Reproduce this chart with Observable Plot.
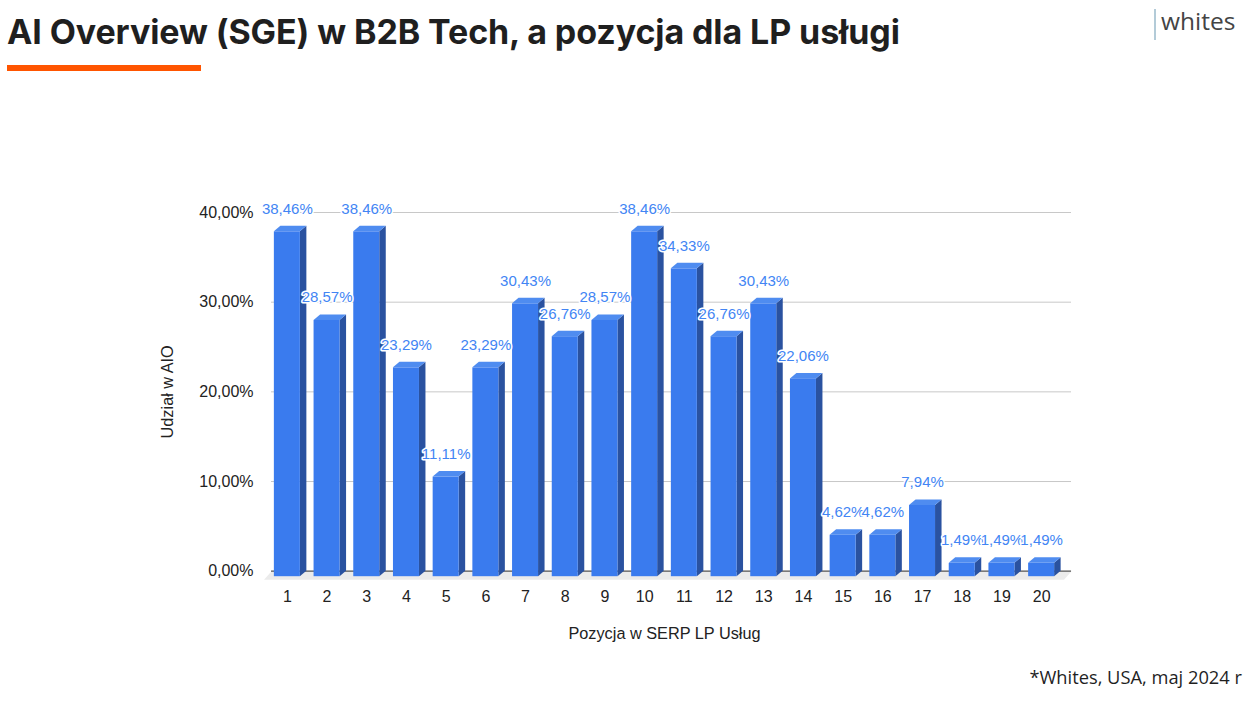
<!DOCTYPE html>
<html>
<head>
<meta charset="utf-8">
<script src="https://cdn.jsdelivr.net/npm/d3@7"></script>
<script src="https://cdn.jsdelivr.net/npm/@observablehq/plot@0.6"></script>
<style>
  html, body { margin: 0; padding: 0; background: #fff; width: 1258px; height: 705px; overflow: hidden; position: relative; }
  #title { position: absolute; left: 7px; top: 11px; font-family: Inter, "Open Sans", sans-serif; font-weight: 700; font-size: 34px; color: #1f1f1f; letter-spacing: -0.1px; white-space: nowrap; }
  #underline { position: absolute; left: 7px; top: 65px; width: 194px; height: 6px; background: #ff5500; }
  #logoBar { position: absolute; left: 1154px; top: 9px; width: 2px; height: 31px; background: #b3cbd8; }
  #logo { position: absolute; left: 1161px; top: 4px; font-family: "Open Sans", sans-serif; font-size: 24.5px; color: #444; }
  #chart { position: absolute; left: 0; top: 100px; }
  #footer { position: absolute; right: 16px; top: 664px; font-family: "Open Sans", sans-serif; font-size: 18.3px; color: #1f1f1f; }
</style>
</head>
<body>
<div id="title">AI Overview (SGE) w B2B Tech, a pozycja dla LP usługi</div>
<div id="underline"></div>
<div id="logoBar"></div>
<div id="logo">whites</div>
<div id="chart"></div>
<div id="footer">*Whites, USA, maj 2024 r</div>
<script>
const positions = [1,2,3,4,5,6,7,8,9,10,11,12,13,14,15,16,17,18,19,20];
const shares = [38.46,28.57,38.46,23.29,11.11,23.29,30.43,26.76,28.57,38.46,34.33,26.76,30.43,22.06,4.62,4.62,7.94,1.49,1.49,1.49];
const yTicks = [0,10,20,30,40];
const xTitle = "Pozycja w SERP LP Usług";
const yTitle = "Udział w AIO";

const data = positions.map((p, i) => ({pos: p, value: shares[i]}));
const fmt = v => v.toFixed(2).replace(".", ",") + "%";

const DX = 6.5, DY = 5.5, HALF = 13;
const FRONT = "#3a7bee", TOP = "#4f8cf0", SIDE = "#2a52a0";

function floorRender(index, scales, values, dimensions) {
  const {width, marginLeft, marginRight} = dimensions;
  const y0 = scales.y(0);
  const x0 = marginLeft, x1 = width - marginRight;
  const g = d3.create("svg:g");
  g.append("polygon")
    .attr("points", [[x0 + 8, y0], [x1 + 8, y0], [x1, y0 + 9], [x0, y0 + 9]].map(p => p.join(",")).join(" "))
    .attr("fill", "#ebebeb");
  return g.node();
}

function barsRender(index, scales) {
  const g = d3.create("svg:g");
  const bw = scales.x.bandwidth();
  const y0 = scales.y(0);
  const pts = a => a.map(p => p.join(",")).join(" ");
  for (const i of index) {
    const xc = scales.x(data[i].pos) + bw / 2;
    const yv = scales.y(data[i].value);
    const L = xc - HALF, R = xc + HALF;
    g.append("polygon").attr("fill", SIDE)
      .attr("points", pts([[R, yv + DY], [R + DX, yv], [R + DX, y0], [R, y0 + DY]]));
    g.append("polygon").attr("fill", TOP)
      .attr("points", pts([[L, yv + DY], [R, yv + DY], [R + DX, yv], [L + DX, yv]]));
    g.append("rect").attr("fill", FRONT)
      .attr("x", L).attr("y", yv + DY).attr("width", R - L).attr("height", Math.max(0, y0 - yv));
  }
  return g.node();
}

const chart = Plot.plot({
  width: 1258,
  height: 560,
  marginLeft: 264,
  marginRight: 194,
  marginTop: 112,
  marginBottom: 89.3,
  x: {type: "band", domain: positions, paddingInner: 0, paddingOuter: 0.076, round: false},
  y: {domain: [0, 40]},
  style: {fontFamily: "'Liberation Sans', Arial, sans-serif", fontSize: "16px", color: "#222"},
  marks: [
    Plot.barY(data, {x: "pos", y: "value", render: floorRender}),
    Plot.ruleY(yTicks.filter(d => d > 0), {stroke: "#c8c8c8", strokeWidth: 1, dx: 7}),
    Plot.ruleY([0], {stroke: "#555", strokeWidth: 1.2, dx: 7}),
    Plot.barY(data, {x: "pos", y: "value", render: barsRender}),
    Plot.axisY({ticks: yTicks, tickFormat: fmt, tickSize: 0, tickPadding: 11, label: null, fontSize: 16, fill: "#222"}),
    Plot.axisX({tickSize: 0, tickPadding: 19, label: null, fontSize: 16, fill: "#222"}),
    Plot.text(data, {x: "pos", y: "value", text: d => fmt(d.value), dy: -17.5, fill: "#4285f4", stroke: "white", strokeWidth: 3, fontSize: 15}),
    Plot.text([xTitle], {frameAnchor: "bottom", dy: 68, text: d => d, fontSize: 16.3, fill: "#222"}),
    Plot.text([yTitle], {frameAnchor: "left", textAnchor: "middle", dx: -97, rotate: -90, text: d => d, fontSize: 16.3, fill: "#222"})
  ]
});
document.getElementById("chart").appendChild(chart);
</script>
</body>
</html>
